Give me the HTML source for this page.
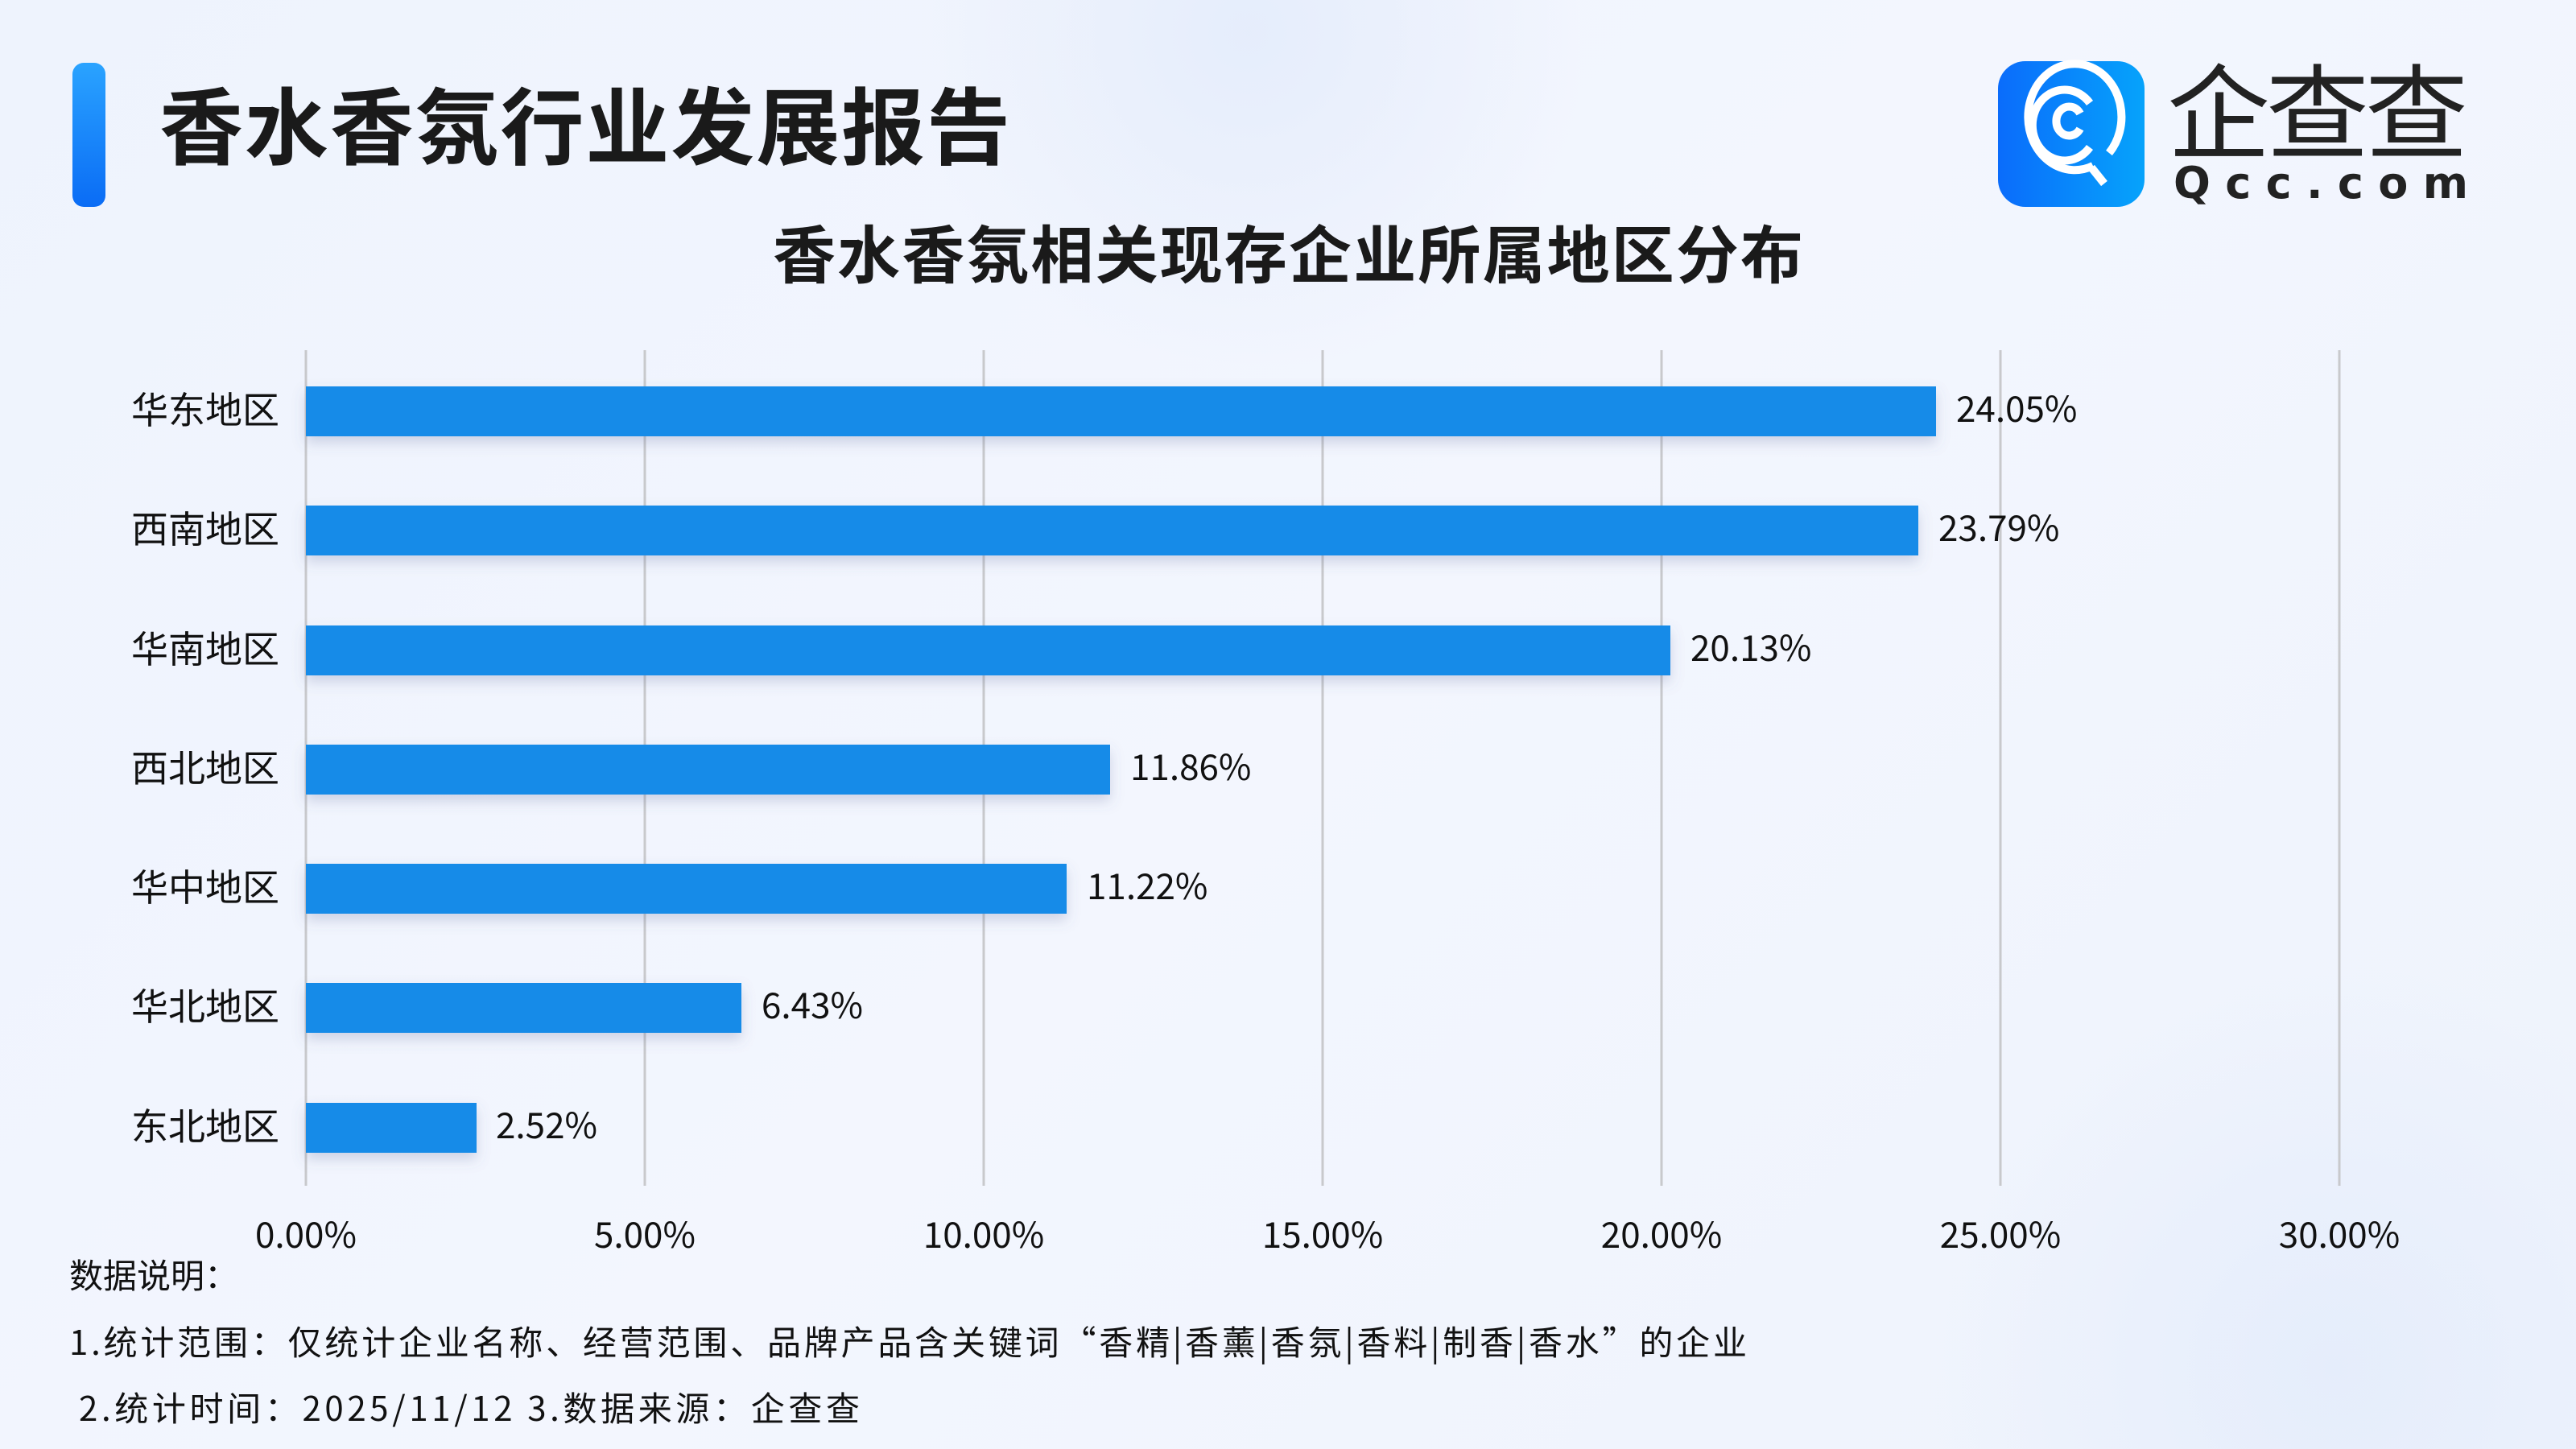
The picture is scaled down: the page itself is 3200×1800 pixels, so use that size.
<!DOCTYPE html>
<html><head><meta charset="utf-8"><style>
html,body{margin:0;padding:0;}
body{width:3200px;height:1800px;overflow:hidden;background:linear-gradient(135deg,#eef3fd 0%,#f3f6fe 50%,#eef3fc 100%);font-family:"Noto Sans CJK SC",sans-serif;}
svg text{font-family:"Noto Sans CJK SC",sans-serif;}
</style></head><body>
<svg width="3200" height="1800" viewBox="0 0 3200 1800" xmlns="http://www.w3.org/2000/svg" style="position:absolute;left:0;top:0;display:block">
<defs>
<linearGradient id="acc" x1="0" y1="0" x2="0" y2="1"><stop offset="0" stop-color="#2aa3ff"/><stop offset="1" stop-color="#0a6cf5"/></linearGradient>
<linearGradient id="logo" x1="0" y1="0" x2="1" y2="0"><stop offset="0" stop-color="#0a6cfb"/><stop offset="1" stop-color="#06a3fb"/></linearGradient>
<radialGradient id="glow" cx="0.5" cy="0.5" r="0.5"><stop offset="0" stop-color="#e4ecfb" stop-opacity="0.9"/><stop offset="1" stop-color="#e4ecfb" stop-opacity="0"/></radialGradient>
<filter id="sh" x="-5%" y="-30%" width="110%" height="180%"><feDropShadow dx="0" dy="8" stdDeviation="8" flood-color="#5a6b9a" flood-opacity="0.25"/></filter>
</defs>
<circle cx="1550" cy="40" r="420" fill="url(#glow)"/>
<circle cx="2900" cy="1700" r="500" fill="url(#glow)"/>
<rect x="90" y="78" width="41" height="179" rx="14" fill="url(#acc)"/>
<text x="198" y="196" font-size="104" font-weight="bold" fill="#1a1a1a" textLength="1057">香水香氛行业发展报告</text>
<rect x="2482" y="76" width="182" height="181" rx="34" fill="url(#logo)"/>
<g fill="none" stroke="#fff" stroke-width="10" stroke-linecap="butt">
<path d="M2600 206 A58 66 0 1 1 2620 190"/>
<path d="M2596 183 A40 44 0 1 1 2596 128"/>
<path d="M2584 160 A16 18 0 1 1 2584 141"/>
<path d="M2598 208 L2614 228"/>
</g>
<text x="2692" y="187" font-size="128" fill="#222" textLength="374">企查查</text>
<text x="2700" y="246" font-size="54" fill="#222" font-weight="bold" textLength="366" lengthAdjust="spacing" style="font-family:'DejaVu Sans',sans-serif">Qcc.com</text>
<text x="960" y="345" font-size="78" font-weight="bold" fill="#1a1a1a" textLength="1280">香水香氛相关现存企业所属地区分布</text>
<g stroke="#c8c9cc" stroke-width="3">
<line x1="380" y1="435" x2="380" y2="1473"/>
<line x1="801" y1="435" x2="801" y2="1473"/>
<line x1="1222" y1="435" x2="1222" y2="1473"/>
<line x1="1643" y1="435" x2="1643" y2="1473"/>
<line x1="2064" y1="435" x2="2064" y2="1473"/>
<line x1="2485" y1="435" x2="2485" y2="1473"/>
<line x1="2906" y1="435" x2="2906" y2="1473"/>
</g>
<g fill="#168be8" filter="url(#sh)">
<rect x="380" y="480" width="2025" height="62"/>
<rect x="380" y="628" width="2003" height="62"/>
<rect x="380" y="777" width="1695" height="62"/>
<rect x="380" y="925" width="999" height="62"/>
<rect x="380" y="1073" width="945" height="62"/>
<rect x="380" y="1221" width="541" height="62"/>
<rect x="380" y="1370" width="212" height="62"/>
</g>
<g font-size="46" fill="#111" text-anchor="end">
<text x="347" y="526">华东地区</text>
<text x="347" y="674">西南地区</text>
<text x="347" y="823">华南地区</text>
<text x="347" y="971">西北地区</text>
<text x="347" y="1119">华中地区</text>
<text x="347" y="1267">华北地区</text>
<text x="347" y="1416">东北地区</text>
</g>
<g font-size="44" fill="#111">
<text x="2430" y="524">24.05%</text>
<text x="2408" y="672">23.79%</text>
<text x="2100" y="821">20.13%</text>
<text x="1404" y="969">11.86%</text>
<text x="1350" y="1117">11.22%</text>
<text x="946" y="1265">6.43%</text>
<text x="616" y="1414">2.52%</text>
</g>
<g font-size="44" fill="#111" text-anchor="middle">
<text x="380" y="1550">0.00%</text>
<text x="801" y="1550">5.00%</text>
<text x="1222" y="1550">10.00%</text>
<text x="1643" y="1550">15.00%</text>
<text x="2064" y="1550">20.00%</text>
<text x="2485" y="1550">25.00%</text>
<text x="2906" y="1550">30.00%</text>
</g>
<g font-size="42" fill="#111">
<text x="86" y="1600">数据说明：</text>
<text x="86" y="1683" textLength="2084">1.统计范围：仅统计企业名称、经营范围、品牌产品含关键词“香精|香薰|香氛|香料|制香|香水”的企业</text>
<text x="98" y="1765" textLength="970">2.统计时间：2025/11/12  3.数据来源：企查查</text>
</g>
</svg>
</body></html>
